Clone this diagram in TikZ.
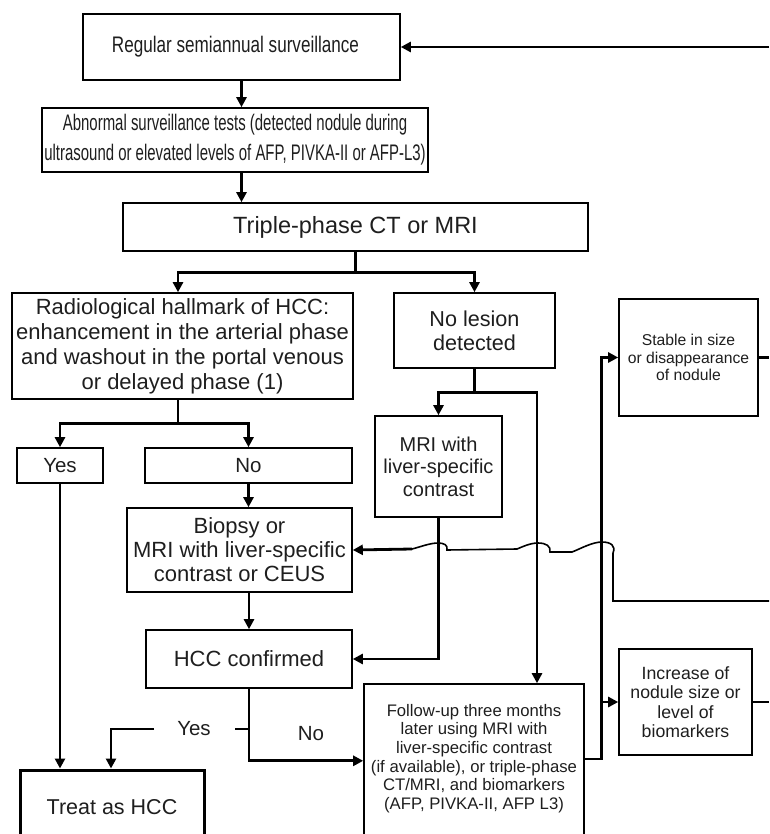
\documentclass[tikz,border=0pt]{standalone}
\usepackage{fontspec}
\setmainfont{Liberation Sans}
\usetikzlibrary{arrows.meta}
\definecolor{txt}{RGB}{30,30,30}
\newcommand\myfs[2]{\fontsize{#1}{#2}\selectfont}
\begin{document}
\begin{tikzpicture}[x=1pt,y=-1pt,
  box/.style={draw, line width=1.6pt, inner sep=0pt, align=center, text=txt, font=\myfs{22}{25}},
  conn/.style={line width=2.8pt},
  arr/.style={conn, -{Triangle[length=10pt,width=10pt]}},
  thinline/.style={line width=1.6pt},
  lab/.style={text=txt, font=\myfs{20.5}{24}, inner sep=0pt}]
\clip (0,0) rectangle (769,834);
% boxes
\node[box, minimum width=317pt, minimum height=66pt, font=\myfs{22.5}{25}] (reg) at (241.5,47) {\scalebox{0.76}[1]{Regular semiannual surveillance}\hspace*{12pt}};
\node[box, minimum width=386pt, minimum height=64pt, font=\myfs{22.5}{30}] (abn) at (235,140) {\scalebox{0.665}[1]{\begin{tabular}{@{}c@{}}Abnormal surveillance tests (detected nodule during\\ultrasound or elevated levels of AFP, PIVKA-II or AFP-L3)\end{tabular}}};
\node[box, minimum width=465pt, minimum height=48pt, font=\myfs{23.5}{26}] (tri) at (355.5,227) {Triple-phase CT or MRI};
\node[box, minimum width=341pt, minimum height=106pt] (rad) at (182.5,346) {Radiological hallmark of HCC:\\enhancement in the arterial phase\\and washout in the portal venous\\or delayed phase (1)};
\node[box, minimum width=161pt, minimum height=75pt, font=\myfs{21.6}{24}] (nol) at (474.5,330.5) {No lesion\\detected};
\node[box, minimum width=127pt, minimum height=101pt, font=\myfs{20}{22.5}] (mri) at (438.5,466.5) {MRI with\\liver-specific\\contrast};
\node[box, minimum width=86pt, minimum height=35pt, font=\myfs{20.5}{24}] (yes) at (60,465.5) {Yes};
\node[box, minimum width=207pt, minimum height=35pt, font=\myfs{20.5}{24}] (no) at (248.5,465.5) {No};
\node[box, minimum width=225pt, minimum height=84pt, font=\myfs{22}{24}] (bio) at (239.5,550) {Biopsy or\\MRI with liver-specific\\contrast or CEUS};
\node[box, minimum width=206pt, minimum height=58pt] (hcc) at (249,659) {HCC confirmed};
\node[box, line width=3pt, minimum width=184pt, minimum height=74pt, font=\myfs{21.5}{24}] (treat) at (112,807) {Treat as HCC};
\node[box, minimum width=220pt, minimum height=170pt] (fu) at (474,769) {};
\node[text=txt, align=center, inner sep=0pt, font=\myfs{16.7}{18.6}] (fut) at (474,758.5) {Follow-up three months\\later using MRI with\\liver-specific contrast\\(if available), or triple-phase\\CT/MRI, and biomarkers\\(AFP, PIVKA-II, AFP L3)};
\node[box, minimum width=139pt, minimum height=117pt, font=\myfs{15.7}{17.7}] (stab) at (688.5,357.5) {Stable in size\\or disappearance\\of nodule};
\node[box, minimum width=133pt, minimum height=106pt, font=\myfs{17.7}{19.5}] (inc) at (685.5,702) {Increase of\\nodule size or\\level of\\biomarkers};
\node[lab] (ylab) at (194,729) {Yes};
\node[lab] (nlab) at (311,734) {No};
% connectors
\coordinate (inR) at (769,47);
\draw[arr] (inR) -- (reg.east);
\draw[arr] (reg.south) -- (reg.south |- abn.north);
\draw[arr] (reg.south |- abn.south) -- (reg.south |- tri.north);
\draw[conn] (tri.south) -- ++(0,21) coordinate (j1);
\draw[arr] (j1) -| ([xshift=-4.5pt]rad.north);
\draw[arr] (j1) -| (nol.north);
\draw[conn] ([xshift=-4.5pt]rad.south) -- ++(0,24) coordinate (j2);
\draw[arr] (j2) -| (yes.north);
\draw[arr] (j2) -| (no.north);
\draw[arr] (no.south) -- (no.south |- bio.north);
\draw[arr] (hcc.north |- bio.south) -- (hcc.north);
\draw[conn] (nol.south) -- ++(0,24) coordinate (j3);
\draw[arr] (j3) -| (mri.north);
\draw[arr] (j3) -| ([xshift=63pt]fu.north);
\draw[arr] (mri.south) |- (hcc.east);
\draw[arr] (hcc.south) -- ++(0,72) coordinate (j4) -- (j4 -| fu.west);
\draw[conn] (hcc.south |- ylab.center) -- ++(-14,0);
\draw[arr] ([xshift=-40pt]ylab.center) -| ([xshift=-1pt]treat.north);
\draw[arr] (yes.south) -- (yes.south |- treat.north);
\draw[arr] ([yshift=10pt]fu.east) -- ++(17,0) coordinate (j5) |- (stab.west);
\draw[arr] (j5 |- inc.west) -- (inc.west);
\coordinate (outS) at (769,357.5);
\draw[conn] (stab.east) -- (outS);
\coordinate (outI) at (769,702);
\draw[thinline] (inc.east) -- (outI);
\coordinate (wS) at (769,601);
\draw[thinline] (wS) -- (613,601) -- (613,553)
  .. controls (616,546) and (611,542) .. (602,542)
  .. controls (592,542) and (580,549) .. (572,552) -- (550,552)
  .. controls (551,546) and (546,543) .. (538,543)
  .. controls (530,543) and (522,547) .. (517,549) -- (447,550)
  .. controls (448,545) and (444,543) .. (438,543)
  .. controls (430,543) and (420,547) .. (412,549) coordinate (wE);
\draw[arr] (wE) -- (bio.east);
\end{tikzpicture}
\end{document}
